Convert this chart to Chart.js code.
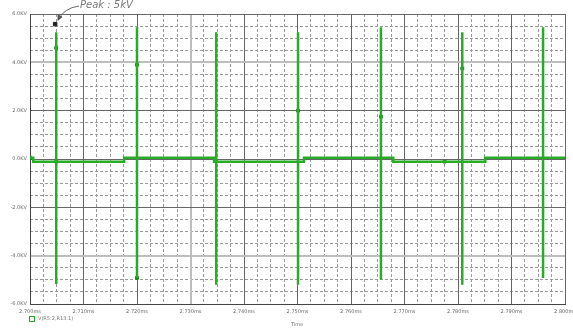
<!DOCTYPE html>
<html>
<head>
<meta charset="utf-8">
<script src="https://cdn.jsdelivr.net/npm/chart.js@4/dist/chart.umd.min.js"></script>
<style>
  html, body { margin: 0; padding: 0; background: #fff; }
  #wrap { position: relative; width: 573px; height: 336px; font-family: "DejaVu Sans", sans-serif; }
  #c { position: absolute; left: 0; top: 0; }
  .txt { position: absolute; color: #666; white-space: nowrap; }
  #peak { left: 80px; top: -1px; font-size: 10px; font-style: italic; color: #777; }
  #legend { left: 29px; top: 315px; font-size: 5px; color: #777; }
  #legend span.box { display: inline-block; width: 4px; height: 4px; border: 1px solid #2a2; margin-right: 3px; vertical-align: middle; }
  #xtitle { left: 291px; top: 321px; font-size: 5px; color: #777; }
  svg { position: absolute; left: 0; top: 0; }
</style>
</head>
<body>
<div id="wrap">
  <canvas id="c" width="573" height="336"></canvas>
  <svg width="573" height="336">
    <defs>
      <marker id="ah" markerWidth="6" markerHeight="6" refX="5" refY="3" orient="auto">
        <path d="M0,0 L6,3 L0,6 z" fill="#555"/>
      </marker>
    </defs>
    <path d="M79,6 Q64,8 58,20" stroke="#666" stroke-width="1" fill="none" marker-end="url(#ah)"/>
  </svg>
  <div class="txt" id="peak">Peak : 5kV</div>
  <div class="txt" id="legend"><span class="box"></span>V(R5:2,R13:1)</div>
  <div class="txt" id="xtitle">Time</div>
</div>
<script>
// tick labels
const xTickLabels = ["2.700ms", "2.710ms", "2.720ms", "2.730ms", "2.740ms", "2.750ms",
                     "2.760ms", "2.770ms", "2.780ms", "2.790ms", "2.800ms"];
const yTickLabels = ["-6.0KV", "-4.0KV", "-2.0KV", "0.0KV", "2.0KV", "4.0KV", "6.0KV"];

// baseline level changes (time in us, volts in kV)
const stepTimes  = [2700.0, 2700.6, 2717.6, 2734.4, 2751.2, 2767.9, 2785.1];
const stepLevels = [0.05, -0.11, 0.05, -0.11, 0.05, -0.11, 0.05];

// spikes
const spikeTimes = [2704.9, 2720.0, 2734.8, 2750.1, 2765.6, 2780.8, 2795.9];
const spikeHigh  = [5.25, 5.45, 5.25, 5.25, 5.45, 5.25, 5.45];
const spikeLow   = [-5.17, -4.92, -5.2, -5.2, -5.0, -5.2, -4.92];

// trace markers
const markerTimes = [2700.0, 2704.9, 2704.9, 2720.0, 2720.0, 2750.1, 2765.6, 2780.8, 2777.5];
const markerVals  = [0.05, 4.6, -0.11, 3.9, -4.92, 2.0, 1.75, 3.75, -0.11];

// peak marker
const peakTime = 2704.7;
const peakVal = 5.58;

// build the trace in time order
const events = [];
stepTimes.forEach((t, i) => events.push({ t, kind: "step", i }));
spikeTimes.forEach((t, i) => events.push({ t, kind: "spike", i }));
events.sort((a, b) => a.t - b.t);

const trace = [];
let level = stepLevels[0];
events.forEach(e => {
  if (e.kind === "step") {
    trace.push({ x: e.t, y: level });
    level = stepLevels[e.i];
    trace.push({ x: e.t, y: level });
  } else {
    trace.push({ x: e.t, y: level });
    trace.push({ x: e.t, y: spikeHigh[e.i] });
    trace.push({ x: e.t, y: spikeLow[e.i] });
    trace.push({ x: e.t, y: level });
  }
});
trace.push({ x: 2800, y: level });

const markers = markerTimes.map((t, i) => ({ x: t, y: markerVals[i] }));

const tickFont = { family: "DejaVu Sans", size: 5 };

new Chart(document.getElementById("c").getContext("2d"), {
  type: "line",
  data: {
    datasets: [
      {
        data: trace,
        borderColor: "rgb(40,172,40)",
        borderWidth: 2.5,
        pointRadius: 0,
        tension: 0
      },
      {
        data: markers,
        showLine: false,
        pointStyle: "rect",
        pointRadius: 2,
        pointBackgroundColor: "#118811",
        pointBorderColor: "#118811"
      },
      {
        data: [{ x: peakTime, y: peakVal }],
        showLine: false,
        pointStyle: "rect",
        pointRadius: 2.5,
        pointBackgroundColor: "#222",
        pointBorderColor: "#222"
      }
    ]
  },
  options: {
    responsive: false,
    animation: false,
    layout: { padding: { top: 14, right: 8, left: 0, bottom: 0 } },
    plugins: { legend: { display: false }, tooltip: { enabled: false } },
    scales: {
      x2: {
        type: "linear", position: "top", min: 2700, max: 2800,
        ticks: { display: false, stepSize: 2.5 },
        grid: {
          drawTicks: false,
          color: ctx => (ctx.tick && ctx.tick.value % 10 === 0) ? "rgba(0,0,0,0)" : "#999"
        },
        border: { display: false, dash: [3, 2] },
        afterFit: s => { s.height = 0; }
      },
      y2: {
        type: "linear", position: "right", min: -6, max: 6,
        ticks: { display: false, stepSize: 0.5 },
        grid: {
          drawTicks: false,
          color: ctx => (ctx.tick && ctx.tick.value % 2 === 0) ? "rgba(0,0,0,0)" : "#999"
        },
        border: { display: false, dash: [3, 2] },
        afterFit: s => { s.width = 0; }
      },
      x: {
        type: "linear", min: 2700, max: 2800,
        ticks: {
          stepSize: 10, padding: 5, color: "#666", font: tickFont, maxRotation: 0,
          callback: (v, i) => xTickLabels[i]
        },
        grid: {
          drawTicks: false,
          color: ctx => (ctx.tick && ctx.index === 3) ? "#bdbdbd" : "#666",
          lineWidth: ctx => (ctx.tick && ctx.index === 3) ? 2 : 1
        },
        border: { color: "#444", width: 1 },
        afterFit: s => { s.height = 32; s.paddingLeft = 0; s.paddingRight = 0; }
      },
      y: {
        type: "linear", min: -6, max: 6,
        ticks: {
          stepSize: 2, padding: 3, color: "#666", font: tickFont,
          callback: (v, i) => yTickLabels[i]
        },
        grid: {
          drawTicks: false,
          color: ctx => (ctx.tick && Math.abs(ctx.tick.value) === 4) ? "#bdbdbd" : "#666",
          lineWidth: ctx => (ctx.tick && Math.abs(ctx.tick.value) === 4) ? 2 : 1
        },
        border: { color: "#444", width: 1 },
        afterFit: s => { s.width = 30; s.paddingTop = 0; s.paddingBottom = 0; }
      }
    }
  }
});
</script>
</body>
</html>
